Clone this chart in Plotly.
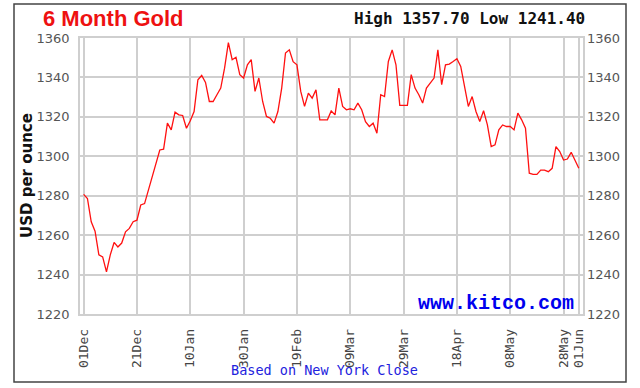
import pandas as pd
import plotly.graph_objects as go

# ---------------- data ----------------
start_date = "2017-12-01"
end_date = "2018-06-01"
prices = [
    1280.7, 1278.6, 1266.8, 1262.0, 1250.0, 1249.0, 1241.4, 1250.0, 1256.3, 1254.0,
    1256.0, 1261.7, 1263.4, 1266.8, 1267.6, 1275.3, 1276.0, 1283.0, 1289.0, 1296.4,
    1303.2, 1303.6, 1316.8, 1313.4, 1322.4, 1321.0, 1320.7, 1314.2, 1318.0, 1322.7,
    1338.8, 1341.0, 1337.5, 1327.8, 1327.8, 1331.2, 1334.6, 1344.7, 1357.7, 1349.0,
    1350.2, 1341.4, 1339.7, 1346.4, 1349.0, 1332.9, 1339.7, 1327.8, 1320.2, 1319.3,
    1316.8, 1322.7, 1334.6, 1352.4, 1354.0, 1348.0, 1346.4, 1332.9, 1325.3, 1332.0,
    1329.5, 1333.7, 1318.5, 1318.5, 1318.5, 1323.0, 1321.0, 1334.6, 1325.3, 1323.6,
    1324.1, 1323.6, 1327.0, 1323.6, 1317.6, 1315.1, 1316.8, 1311.7, 1331.2, 1330.3,
    1348.1, 1354.0, 1346.4, 1325.8, 1325.8, 1325.8, 1341.4, 1334.6, 1331.2, 1327.0,
    1334.6, 1337.1, 1339.7, 1354.0, 1336.3, 1346.4, 1346.8, 1348.1, 1349.5, 1345.6,
    1336.3, 1325.3, 1330.3, 1322.7, 1317.6, 1323.1, 1315.9, 1304.9, 1305.8, 1313.4,
    1315.9, 1315.1, 1315.1, 1313.4, 1321.9, 1318.5, 1314.2, 1291.4, 1290.8, 1290.8,
    1293.0, 1293.0, 1292.2, 1293.9, 1304.9, 1302.4, 1298.1, 1298.6, 1302.0, 1298.1,
    1293.9,
]
tick_labels = ["01Dec", "21Dec", "10Jan", "30Jan", "19Feb", "09Mar",
               "29Mar", "18Apr", "08May", "28May", "01Jun"]
y_ticks = [1220, 1240, 1260, 1280, 1300, 1320, 1340, 1360]
title_text = "6 Month Gold"
high_low_text = "High 1357.70 Low 1241.40"
y_title = "USD per ounce"
footer_text = "Based on New York Close"
brand_text = "www.kitco.com"

# weekday axis (one slot per weekday)
dates = pd.bdate_range(start_date, end_date)
x = list(range(len(dates)))
tickvals = [i for i, d in enumerate(dates) if d.strftime("%d%b") in tick_labels]
ticktext = [dates[i].strftime("%d%b") for i in tickvals]

# ---------------- layout helpers ----------------
W, H = 640, 388
L, R, T, B = 80, 583, 38, 314   # plot area in pixels


def px(xp):
    return (xp - L) / (R - L)


def py(yp):
    return (B - yp) / (B - T)


fig = go.Figure()
fig.add_trace(go.Scatter(x=x, y=prices, mode="lines",
                         line=dict(color="#ff1010", width=1.3),
                         hoverinfo="skip", showlegend=False))
fig.add_trace(go.Scatter(x=x, y=prices, mode="lines", yaxis="y2",
                         line=dict(color="rgba(0,0,0,0)", width=0),
                         hoverinfo="skip", showlegend=False))

grid_c = "#cfcfcf"
fig.update_layout(
    width=W, height=H,
    margin=dict(l=L, r=W - R, t=T, b=H - B, pad=0),
    paper_bgcolor="white", plot_bgcolor="white",
    xaxis=dict(range=[-0.95, 131.1], tickmode="array", tickvals=tickvals,
               ticktext=ticktext, tickangle=-90, showgrid=True,
               gridcolor=grid_c, gridwidth=1.5, zeroline=False,
               showline=True, linecolor=grid_c, linewidth=1.5, mirror=True,
               ticks="", ticklabelstandoff=8, automargin=False,
               tickfont=dict(family="DejaVu Sans Mono", size=13, color="#444")),
    yaxis=dict(range=[1220, 1360], tickmode="array", tickvals=y_ticks,
               showgrid=True, gridcolor=grid_c, gridwidth=1.5, zeroline=False,
               showline=True, linecolor=grid_c, linewidth=1.5, mirror=True,
               ticks="", ticklabelstandoff=6, automargin=False,
               tickfont=dict(family="DejaVu Sans", size=13, color="#555")),
    yaxis2=dict(range=[1220, 1360], tickmode="array", tickvals=y_ticks,
                overlaying="y", side="right", showgrid=False, zeroline=False,
                showline=False, ticks="", ticklabelstandoff=3, automargin=False,
                tickfont=dict(family="DejaVu Sans", size=13, color="#555")),
    shapes=[dict(type="rect", xref="paper", yref="paper",
                 x0=px(14), x1=px(626), y0=py(382), y1=py(4),
                 line=dict(color="#444", width=1.5), layer="below")],
    annotations=[
        dict(text=title_text, xref="paper", yref="paper", x=px(41), y=py(19),
             xanchor="left", yanchor="middle", showarrow=False,
             font=dict(family="Liberation Sans", size=22, color="#ee1111",
                       weight="bold")),
        dict(text=high_low_text, xref="paper", yref="paper", x=px(587), y=py(19),
             xanchor="right", yanchor="middle", showarrow=False,
             font=dict(family="DejaVu Sans Mono", size=16, color="#111",
                       weight="bold")),
        dict(text=y_title, xref="paper", yref="paper", x=px(27), y=py(176),
             xanchor="center", yanchor="middle", showarrow=False, textangle=-90,
             font=dict(family="DejaVu Sans", size=15, color="#111",
                       weight="bold")),
        dict(text=brand_text, xref="paper", yref="paper", x=px(576), y=py(303),
             xanchor="right", yanchor="middle", showarrow=False,
             font=dict(family="Liberation Mono", size=20, color="#0000ee",
                       weight="bold")),
        dict(text=footer_text, xref="paper", yref="paper", x=px(324), y=py(370),
             xanchor="center", yanchor="middle", showarrow=False,
             font=dict(family="DejaVu Sans Mono", size=13.5, color="#2222dd")),
    ],
)

# remove the browser's default 8px page margin so the figure fills the window
fig.write_html("out.html",
               config={"displayModeBar": False},
               post_script="document.body.style.margin='0';")
